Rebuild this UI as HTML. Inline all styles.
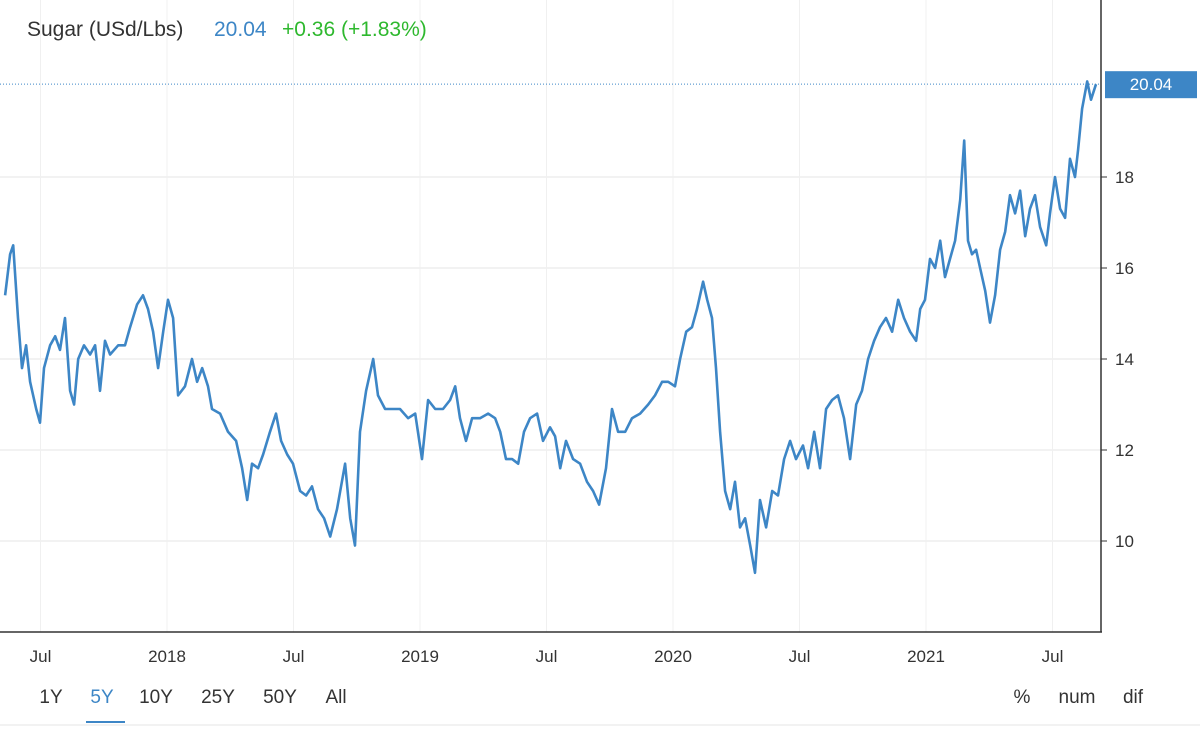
<!DOCTYPE html>
<html><head><meta charset="utf-8"><style>
body{margin:0;background:#fff;font-family:"Liberation Sans",Arial,sans-serif;}
#wrap{position:relative;width:1200px;height:730px;overflow:hidden;}
svg text{font-family:"Liberation Sans",Arial,sans-serif;}
</style></head><body>
<div id="wrap">
<svg id="chart" width="1200" height="730"></svg>
</div>
<script>
const dateOffsets=[0,.020,.032,.051,.067,.083,.099,.123,.138,.154,.178,.198,.217,.237,.257,.273,.289,.312,.336,.356,.375,.395,.415,.447,.474,.494,.522,.545,.565,.585,.605,.625,.644,.664,.684,.711,.739,.759,.779,.802,.818,.850,.881,.913,.937,.957,.976,1.0,1.020,1.047,1.071,1.091,1.115,1.138,1.166,1.190,1.213,1.237,1.261,1.285,1.312,1.344,1.364,1.383,1.403,1.427,1.455,1.474,1.502,1.530,1.561,1.593,1.621,1.648,1.672,1.700,1.731,1.759,1.779,1.798,1.822,1.846,1.877,1.909,1.937,1.957,1.980,2.004,2.028,2.051,2.075,2.103,2.126,2.154,2.174,2.194,2.217,2.245,2.273,2.300,2.324,2.348,2.375,2.399,2.423,2.451,2.478,2.510,2.542,2.569,2.597,2.621,2.648,2.668,2.692,2.715,2.735,2.759,2.775,2.794,2.810,2.826,2.846,2.866,2.885,2.905,2.925,2.945,2.964,2.984,3.008,3.032,3.055,3.079,3.103,3.126,3.154,3.174,3.198,3.221,3.245,3.269,3.292,3.316,3.340,3.364,3.387,3.411,3.435,3.458,3.482,3.506,3.530,3.553,3.577,3.601,3.617,3.636,3.656,3.676,3.696,3.715,3.735,3.755,3.775,3.791,3.806,3.822,3.838,3.854,3.874,3.893,3.913,3.933,3.953,3.972,3.992,4.012,4.032,4.051,4.071,4.091,4.115,4.130,4.150,4.170,4.190,4.209,4.229,4.241,4.257,4.277,4.292,4.312];
const prices=[15.4,16.3,16.5,14.9,13.8,14.3,13.5,12.9,12.6,13.8,14.3,14.5,14.2,14.9,13.3,13.0,14.0,14.3,14.1,14.3,13.3,14.4,14.1,14.3,14.3,14.7,15.2,15.4,15.1,14.6,13.8,14.6,15.3,14.9,13.2,13.4,14.0,13.5,13.8,13.4,12.9,12.8,12.4,12.2,11.6,10.9,11.7,11.6,11.9,12.4,12.8,12.2,11.9,11.7,11.1,11.0,11.2,10.7,10.5,10.1,10.7,11.7,10.5,9.9,12.4,13.3,14.0,13.2,12.9,12.9,12.9,12.7,12.8,11.8,13.1,12.9,12.9,13.1,13.4,12.7,12.2,12.7,12.7,12.8,12.7,12.4,11.8,11.8,11.7,12.4,12.7,12.8,12.2,12.5,12.3,11.6,12.2,11.8,11.7,11.3,11.1,10.8,11.6,12.9,12.4,12.4,12.7,12.8,13.0,13.2,13.5,13.5,13.4,14.0,14.6,14.7,15.1,15.7,15.3,14.9,13.8,12.4,11.1,10.7,11.3,10.3,10.5,9.9,9.3,10.9,10.3,11.1,11.0,11.8,12.2,11.8,12.1,11.6,12.4,11.6,12.9,13.1,13.2,12.7,11.8,13.0,13.3,14.0,14.4,14.7,14.9,14.6,15.3,14.9,14.6,14.4,15.1,15.3,16.2,16.0,16.6,15.8,16.2,16.6,17.5,18.8,16.6,16.3,16.4,16.0,15.5,14.8,15.4,16.4,16.8,17.6,17.2,17.7,16.7,17.3,17.6,16.9,16.5,17.2,18.0,17.3,17.1,18.4,18.0,18.6,19.5,20.1,19.7,20.04];
const startYear=2017.36;
const yTicks=[10,12,14,16,18];
const xTickDates=[2017.5,2018,2018.5,2019,2019.5,2020,2020.5,2021,2021.5];
const xTickLabels=["Jul","2018","Jul","2019","Jul","2020","Jul","2021","Jul"];
const lastValue=20.04;

const NS="http://www.w3.org/2000/svg";
const svg=document.getElementById('chart');
const xS=t=>167+(t-2018)*253;
const yS=v=>541-(v-10)*45.5;
function mk(tag,attrs,parent){const e=document.createElementNS(NS,tag);for(const k in attrs)e.setAttribute(k,attrs[k]);(parent||svg).appendChild(e);return e;}

yTicks.forEach(v=>{
  const g=mk('line',{x1:0,x2:1101,y1:yS(v),y2:yS(v),stroke:'#e6e6e6','stroke-width':1});
  
  
  const tk=mk('line',{x1:1101,x2:1107,y1:yS(v),y2:yS(v),stroke:'#333'});
  
  
  const tx=mk('text',{x:1115,y:yS(v)+6,'font-size':17,fill:'#333'});
  tx.textContent=v;
  
  
});
xTickDates.forEach((t,i)=>{
  const g=mk('line',{x1:xS(t),x2:xS(t),y1:0,y2:632,stroke:'#f0f0f0'});
  
  
  const tx=mk('text',{x:xS(t),y:662,'font-size':17,fill:'#333','text-anchor':'middle'});
  tx.textContent=xTickLabels[i];
  
  
});
const ax=mk('line',{x1:0,x2:1102,y1:632,y2:632,stroke:'#333','stroke-width':1.5});


const ay=mk('line',{x1:1101,x2:1101,y1:0,y2:632,stroke:'#333','stroke-width':1.5});



const dl=mk('line',{x1:0,x2:1101,y1:yS(lastValue),y2:yS(lastValue),stroke:'#3d86c6','stroke-width':1,'stroke-dasharray':'1,2'});



let d='';
dateOffsets.forEach((o,i)=>{d+=(i?'L':'M')+xS(startYear+o).toFixed(1)+','+yS(prices[i]).toFixed(1);});
const p=mk('path',{d:d,fill:'none',stroke:'#3d86c6','stroke-width':2.6,'stroke-linejoin':'round'});



const lb=mk('rect',{x:1105,y:yS(lastValue)-13,width:92,height:27,fill:'#3d86c6'});


const lt=mk('text',{x:1151,y:yS(lastValue)+6,'font-size':17,fill:'#fff','text-anchor':'middle'});
lt.textContent=lastValue.toFixed(2);



const t1=mk('text',{x:27,y:36,'font-size':21,fill:'#333'});
t1.innerHTML='<tspan>Sugar (USd/Lbs)</tspan><tspan x="214" fill="#3d86c6">20.04</tspan><tspan x="282" fill="#2eb82e">+0.36 (+1.83%)</tspan>';



const btns=[["1Y",51],["5Y",102],["10Y",156],["25Y",218],["50Y",280],["All",336]];
btns.forEach(b=>{
  const e=mk('text',{x:b[1],y:703,'font-size':19,fill:b[0]==='5Y'?'#3d86c6':'#333','text-anchor':'middle'});
  e.textContent=b[0];
  
  
});
const ul=mk('line',{x1:86,x2:125,y1:722,y2:722,stroke:'#3d86c6','stroke-width':2});


const opts=[["%",1022],["num",1077],["dif",1133]];
opts.forEach(b=>{
  const e=mk('text',{x:b[1],y:703,'font-size':19,fill:'#333','text-anchor':'middle'});
  e.textContent=b[0];
  
  
});
const bl=mk('line',{x1:0,x2:1200,y1:725,y2:725,stroke:'#e6e6e6'});


</script>
</body></html>
